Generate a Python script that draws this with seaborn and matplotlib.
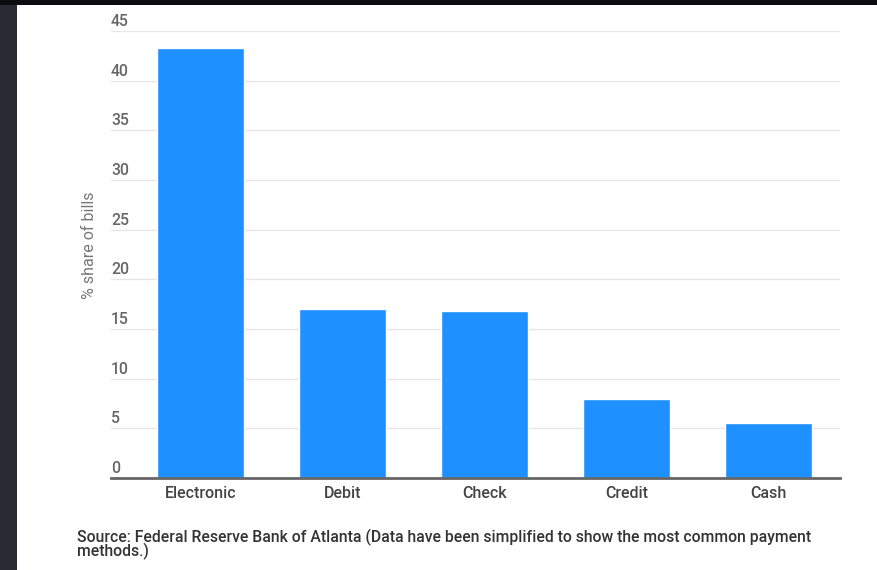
import matplotlib
matplotlib.use("Agg")
import matplotlib.pyplot as plt
import matplotlib.transforms as mtransforms
from matplotlib.patches import Rectangle
import seaborn as sns
import pandas as pd

categories = ["Electronic", "Debit", "Check", "Credit", "Cash"]
shares = [43.3, 17.0, 16.8, 8.0, 5.5]
yticks = [0, 5, 10, 15, 20, 25, 30, 35, 40, 45]
ylabel = "% share of bills"
source = "Source: Federal Reserve Bank of Atlanta (Data have been simplified to show the most common payment\nmethods.)"

sns.set_theme(style="white")
plt.rcParams["font.family"] = ["Roboto", "DejaVu Sans"]
W = "medium"

df = pd.DataFrame({"method": categories, "share": shares})

fig = plt.figure(figsize=(8.77, 5.70), dpi=100, facecolor="white")
# dark screenshot frame
fig.patches.append(Rectangle((0, 0), 17 / 877, 1, transform=fig.transFigure,
                             facecolor="#272a33", edgecolor="none", zorder=0))
fig.patches.append(Rectangle((0, 1 - 5 / 570), 1, 5 / 570, transform=fig.transFigure,
                             facecolor="#0c0c0e", edgecolor="none", zorder=0))

ax = fig.add_axes([111 / 877, 92 / 570, 729 / 877, 447 / 570])
ax.set_facecolor("white")
sns.barplot(data=df, x="method", y="share", color="#1E90FF", saturation=1,
            width=0.613, ax=ax, zorder=3)

ax.set_xlim(-0.63, 4.503)
ax.set_ylim(0, 45)
ax.set_yticks(yticks)
ax.set_yticklabels([])
ax.tick_params(axis="y", length=0)
ax.tick_params(axis="x", length=0, pad=6, labelsize=11.5, labelcolor="#444444")
for lab in ax.get_xticklabels():
    lab.set_fontweight(W)
ax.yaxis.grid(True, color="#e6e6e6", linewidth=1)
ax.set_axisbelow(True)
for s in ["top", "right", "left"]:
    ax.spines[s].set_visible(False)
ax.spines["bottom"].set_color("#666666")
ax.spines["bottom"].set_linewidth(2)
ax.spines["bottom"].set_zorder(5)
ax.set_xlabel("")
ax.set_ylabel("")

trans = mtransforms.offset_copy(
    mtransforms.blended_transform_factory(ax.transAxes, ax.transData),
    fig=fig, x=0, y=2, units="dots")
for t in yticks:
    ax.text(0, t, str(t), transform=trans, ha="left", va="bottom",
            fontsize=11.3, color="#666666", fontweight=W)

fig.text(90 / 877, 1 - 245 / 570, ylabel, rotation=90, ha="center", va="center",
         fontsize=11.5, color="#777777")

fig.text(77 / 877, 1 - 529 / 570, source, ha="left", va="top",
         fontsize=11.3, color="#333333", linespacing=0.76, fontweight=W)

fig.savefig("out.png", dpi=100, facecolor="white")
